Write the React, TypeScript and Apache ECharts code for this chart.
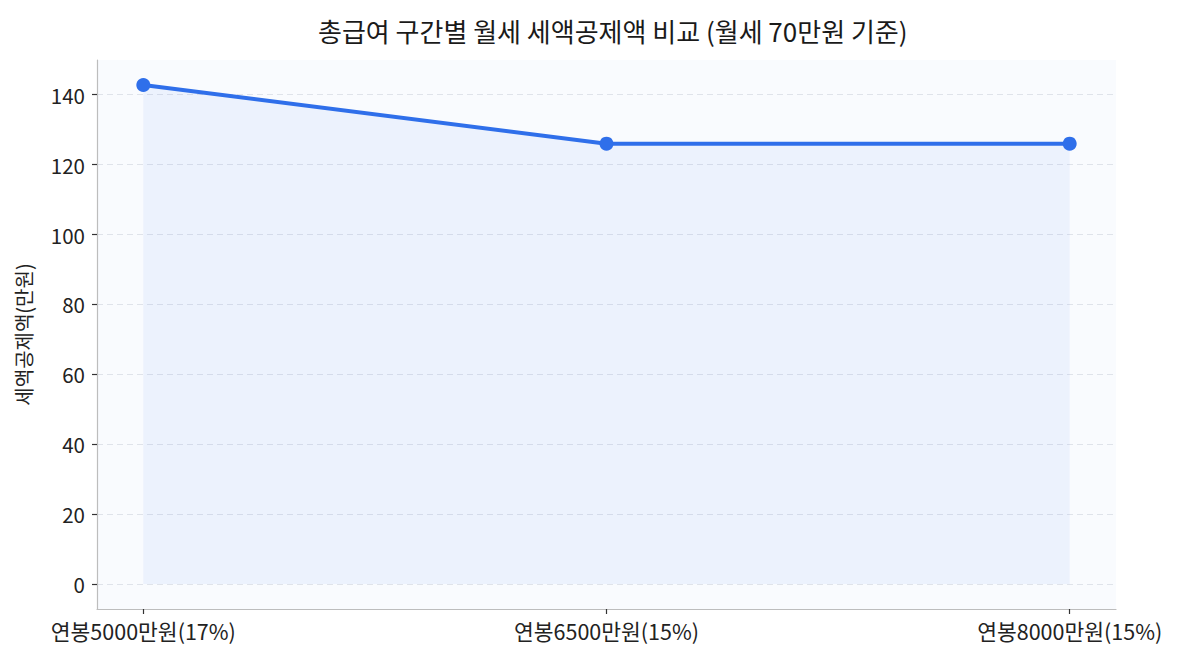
import React, { useEffect, useRef } from "react";
import * as echarts from "echarts";

const categories = ["연봉5000만원(17%)", "연봉6500만원(15%)", "연봉8000만원(15%)"];
const deductions = [142.8, 126, 126];
const yTicks = [0, 20, 40, 60, 80, 100, 120, 140];
const titleText = "총급여 구간별 월세 세액공제액 비교 (월세 70만원 기준)";
const yAxisName = "세액공제액(만원)";

const KFONT = "'Noto Sans CJK KR', 'Noto Sans', sans-serif";

export default function App() {
  const ref = useRef<HTMLDivElement>(null);
  useEffect(() => {
    if (!ref.current) return;
    const chart = echarts.init(ref.current, undefined, { renderer: "svg" });
    const data = deductions.map((v, i) => [i, v]);
    chart.setOption({
      animation: false,
      backgroundColor: "#ffffff",
      textStyle: { fontFamily: KFONT },
      title: {
        text: titleText,
        left: 313,
        top: 12,
        textStyle: { fontFamily: KFONT, fontSize: 26, fontWeight: "normal", color: "#1a1a1a" },
      },
      grid: {
        left: 97,
        right: 64,
        top: 60,
        bottom: 51,
        show: true,
        backgroundColor: "#f9fbfe",
        borderWidth: 0,
      },
      xAxis: {
        type: "value",
        min: -0.1,
        max: 2.1,
        axisLine: { show: true, onZero: false, lineStyle: { color: "#bdbdbd", width: 1.2 } },
        axisTick: {
          show: true,
          customValues: [0, 1, 2],
          length: 5,
          lineStyle: { color: "#333", width: 1.2 },
        },
        axisLabel: {
          customValues: [0, 1, 2],
          formatter: (v: number) => categories[Math.round(v)] ?? "",
          fontFamily: KFONT,
          fontSize: 21.5,
          color: "#222",
          margin: 11,
        },
        splitLine: { show: false },
      },
      yAxis: {
        type: "value",
        min: -7.14,
        max: 149.94,
        name: yAxisName,
        nameLocation: "middle",
        nameGap: 64,
        nameTextStyle: { fontFamily: KFONT, fontSize: 20, color: "#222" },
        axisLine: { show: true, onZero: false, lineStyle: { color: "#bdbdbd", width: 1.2 } },
        axisTick: {
          show: true,
          customValues: yTicks,
          length: 5,
          lineStyle: { color: "#333", width: 1.2 },
        },
        axisLabel: {
          customValues: yTicks,
          fontFamily: KFONT,
          fontSize: 20.5,
          color: "#222",
          margin: 12,
        },
        splitLine: {
          show: true,
          lineStyle: { color: "#dfe3ea", type: [6, 4], width: 1.1 },
        },
      },
      series: [
        {
          type: "line",
          data,
          symbol: "circle",
          symbolSize: 14,
          itemStyle: { color: "#2f6fea" },
          lineStyle: { color: "#2f6fea", width: 4 },
          areaStyle: { color: "rgba(47,111,234,0.09)", origin: 0 },
        },
      ],
    });
    return () => chart.dispose();
  }, []);
  return (
    <div
      ref={ref}
      style={{ position: "absolute", left: 0, top: 0, width: 1180, height: 660 }}
    />
  );
}
